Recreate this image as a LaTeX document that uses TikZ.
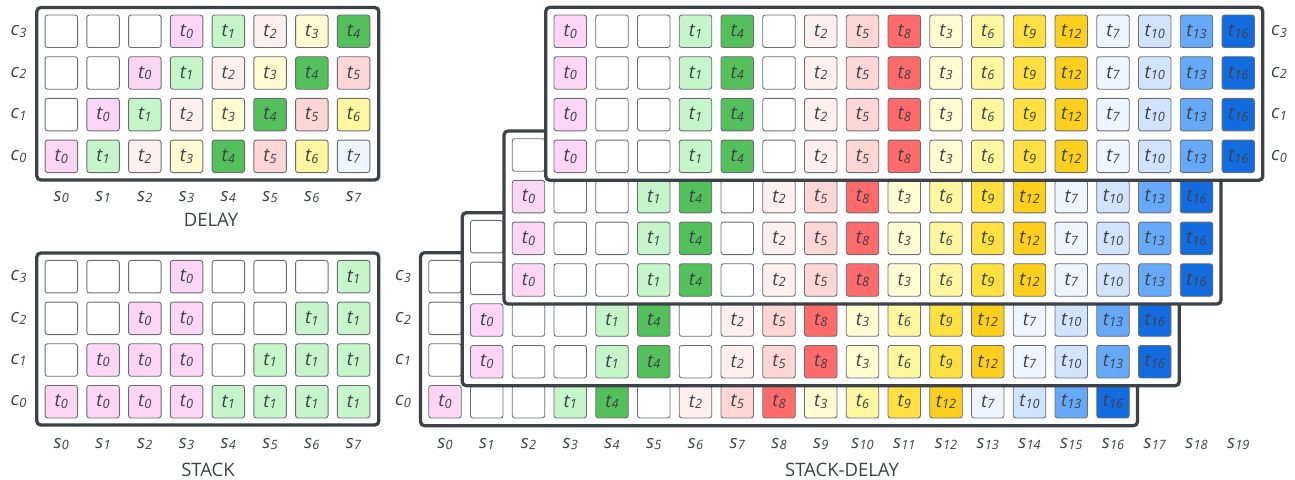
\documentclass[tikz,border=0pt]{standalone}
\usepackage{fontspec}
\setmainfont{Open Sans}
\definecolor{ink}{HTML}{3D4248}
\definecolor{cellline}{HTML}{6A6E73}
\definecolor{framec}{HTML}{3D4248}
\definecolor{T0}{HTML}{FDD6F5}
\definecolor{T1}{HTML}{C5F5C9}
\definecolor{T2}{HTML}{FFEFEF}
\definecolor{T3}{HTML}{FEFCD0}
\definecolor{T4}{HTML}{53C05B}
\definecolor{T5}{HTML}{FFD6D6}
\definecolor{T6}{HTML}{FFF6A0}
\definecolor{T7}{HTML}{EEF5FF}
\definecolor{T8}{HTML}{FF6B6B}
\definecolor{T9}{HTML}{FEE040}
\definecolor{T10}{HTML}{D1E4FF}
\definecolor{T12}{HTML}{FBCF1C}
\definecolor{T13}{HTML}{65A9F8}
\definecolor{T16}{HTML}{136CDF}
\newcommand\tsub[2]{#1\kern0.2pt\raisebox{-1.5pt}{\fontsize{12.8}{12.8}\selectfont #2}}
\tikzset{
  cellbox/.style={draw=cellline, line width=0.9pt, rounded corners=2.5pt,
    minimum width=32.5pt, minimum height=32.5pt, inner sep=0pt, text=ink,
    font=\fontsize{18.5}{18.5}\selectfont\itshape},
  panel/.style={draw=framec, fill=white, line width=3.3pt, rounded corners=4pt},
  axislab/.style={text=ink, font=\fontsize{18.5}{18.5}\selectfont\itshape, inner sep=0pt},
  titlelab/.style={text=ink, font=\fontsize{18.5}{18.5}\selectfont, inner sep=0pt}
}
\begin{document}
\begin{tikzpicture}[x=1pt,y=-1pt]
\useasboundingbox[fill=white] (0,0) rectangle (1295,479);

% ---------------- DELAY ----------------
\draw[panel] (36.8,7.5) rectangle (378.8,180);
\foreach \r in {0,...,3}{
  \foreach \i in {0,...,7}{
    \pgfmathtruncatemacro\tn{\i-\r}
    \pgfmathsetmacro\yy{156.3-41.67*\r}
    \pgfmathsetmacro\xx{61.3+41.75*\i}
    \ifnum\tn<0
      \node[cellbox] (D-\r-\i) at (\xx,\yy) {};
    \else
      \node[cellbox, fill=T\tn] (D-\r-\i) at (\xx,\yy) {\tsub{t}{\tn}};
    \fi
  }
  \node[axislab] (Dc-\r) at (18.5,{156.3-41.67*\r}) {\tsub{c}{\r}};
}
\foreach \i in {0,...,7}{
  \node[axislab] (Ds-\i) at ({61.3+41.75*\i},197) {\tsub{s}{\i}};
}
\node[titlelab] (Dtitle) at (211,220) {DELAY};

% ---------------- STACK ----------------
\draw[panel] (36.8,253) rectangle (378.8,425);
\foreach \r in {0,...,3}{
  \foreach \i in {0,...,7}{
    \pgfmathtruncatemacro\tn{\i<4 ? (\i>=\r ? 0 : -1) : (\i-4>=\r ? 1 : -1)}
    \pgfmathsetmacro\yy{401.7-41.67*\r}
    \pgfmathsetmacro\xx{61.3+41.75*\i}
    \ifnum\tn<0
      \node[cellbox] (S-\r-\i) at (\xx,\yy) {};
    \else
      \node[cellbox, fill=T\tn] (S-\r-\i) at (\xx,\yy) {\tsub{t}{\tn}};
    \fi
  }
  \node[axislab] (Sc-\r) at (18.5,{401.7-41.67*\r}) {\tsub{c}{\r}};
}
\foreach \i in {0,...,7}{
  \node[axislab] (Ss-\i) at ({61.3+41.75*\i},444) {\tsub{s}{\i}};
}
\node[titlelab] (Stitle) at (208,470) {STACK};

% ---------------- STACK-DELAY (layers drawn back to front) ----------------
\foreach \L/\yz in {0/401.7,1/361.7,2/280,3/156.3}{
  \pgfmathsetmacro\xz{445+41.75*\L}
  \draw[panel] ({\xz-24.5},{\yz-125-24}) rectangle ({\xz+16*41.75+24.5},{\yz+24});
  \foreach \r in {0,...,3}{
    \pgfmathsetmacro\yy{\yz-41.67*\r}
    \ifnum\r>\L
      % only the first cell of this row shows past the next layer
      \node[cellbox] (L\L-\r-0) at (\xz,\yy) {};
    \else
      \foreach \tv [count=\j from 0] in {0,-1,-1,1,4,-1,2,5,8,3,6,9,12,7,10,13,16}{
        \pgfmathsetmacro\xx{\xz+41.75*\j}
        \ifnum\tv<0
          \node[cellbox] (L\L-\r-\j) at (\xx,\yy) {};
        \else
          \node[cellbox, fill=T\tv] (L\L-\r-\j) at (\xx,\yy) {\tsub{t}{\tv}};
        \fi
      }
    \fi
  }
}
\foreach \r in {0,...,3}{
  \node[axislab] (SDcl-\r) at (403,{401.7-41.67*\r}) {\tsub{c}{\r}};
  \node[axislab] (SDcr-\r) at (1279,{156.3-41.67*\r}) {\tsub{c}{\r}};
}
\foreach \i in {0,...,19}{
  \node[axislab] (SDs-\i) at ({445+41.75*\i},444) {\tsub{s}{\i}};
}
\node[titlelab] (SDtitle) at (842,470) {STACK-DELAY};
\end{tikzpicture}
\end{document}
